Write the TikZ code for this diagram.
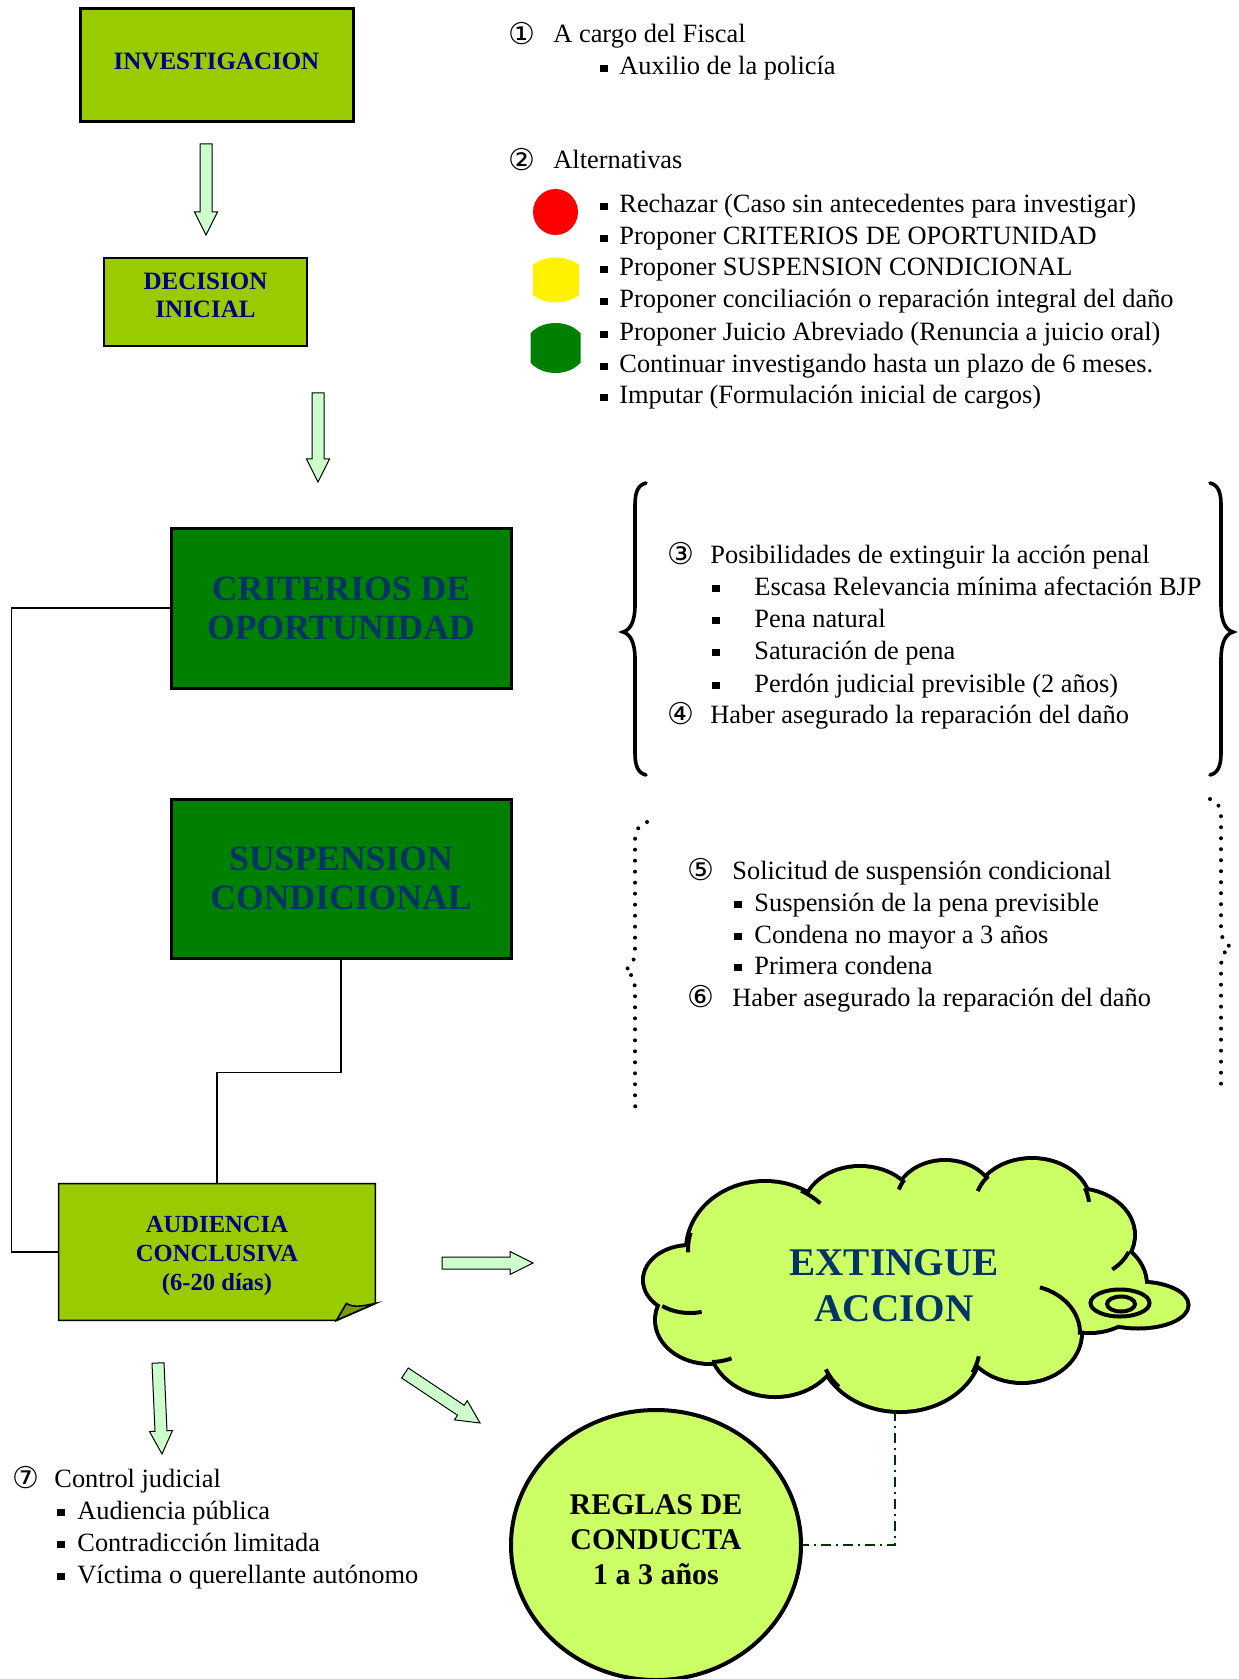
\documentclass[tikz,border=0pt]{standalone}
\usepackage{fontspec}
\setmainfont{Liberation Serif}
\newfontfamily\symf{DejaVu Sans}
\usetikzlibrary{calc,shapes.geometric}

\definecolor{lgreen}{HTML}{99CC00}
\definecolor{dgreen}{HTML}{008000}
\definecolor{navyc}{HTML}{000080}
\definecolor{dnavy}{HTML}{003366}
\definecolor{cloudc}{HTML}{CCFF66}
\definecolor{arrowc}{HTML}{CCFFCC}
\definecolor{foldc}{HTML}{7A9A00}
\definecolor{dashc}{HTML}{003300}

\newcommand\cn[1]{{\symf\fontsize{15}{15}\selectfont #1}}
\newcommand\sqb{\rule[1.4pt]{3.8pt}{3.8pt}}
\newcommand\numl[3]{\makebox[#1][l]{\raisebox{-0.6pt}{\cn{#2}}}#3}
\newcommand\bull[2]{\makebox[#1][l]{\sqb}#2}
\newcommand\blockarrow[3]{%
  \coordinate (#3h) at ($(#2)!11.5pt!(#1)$);
  \draw[barrow] ($(#1)!3pt!90:(#2)$) -- ($(#3h)!3pt!90:(#2)$) -- ($(#3h)!5.75pt!90:(#2)$) -- (#2) -- ($(#3h)!5.75pt!-90:(#2)$) -- ($(#3h)!3pt!-90:(#2)$) -- ($(#1)!3pt!-90:(#2)$) -- cycle;}
\newcommand\stub[6]{\draw[stubline] plot[domain=#5:#6, samples=16, variable=\t] ({#1+#3*cos(\t)}, {#2+#4*sin(\t)});}

\begin{document}
\begin{tikzpicture}[x=0.5pt,y=-0.5pt,
  txt/.style={anchor=base west, inner sep=0pt, font=\fontsize{13.2}{16}\selectfont},
  lbox/.style={draw, fill=lgreen, inner sep=0pt},
  ltext/.style={text=navyc, font=\bfseries\fontsize{12.5}{14}\selectfont, align=center, inner sep=0pt},
  dbox/.style={draw, line width=1.5pt, fill=dgreen, text=dnavy, font=\bfseries\fontsize{17.8}{19.5}\selectfont, align=center, inner sep=0pt},
  barrow/.style={draw=black, line width=0.5pt, fill=arrowc, line join=miter},
  conn/.style={line width=0.8pt},
  brace/.style={line width=1.8pt, line cap=round},
  dbrace/.style={line width=2pt, line cap=round, dash pattern=on 0pt off 5.5pt},
  stubline/.style={line width=2pt}]
\useasboundingbox (0,0) rectangle (1238,1679);
\fill[white] (0,0) rectangle (1238,1679);

% ---------- boxes ----------
\node[lbox, line width=1.5pt, minimum width=136.5pt, minimum height=56.5pt] (inv) at (216.5,65.5) {};
\node[ltext] (invt) at (216.5,61) {INVESTIGACION};
\node[lbox, line width=0.8pt, minimum width=101.5pt, minimum height=44pt] (dec) at (205.5,302) {};
\node[ltext] (dect) at (205.5,295) {DECISION\\INICIAL};
\node[dbox, minimum width=170pt, minimum height=80pt] (crit) at (341,608) {CRITERIOS DE\\OPORTUNIDAD};
\node[dbox, minimum width=170pt, minimum height=79.5pt] (susp) at (341,878.5) {\raisebox{0pt}{SUSPENSION}\\CONDICIONAL};

% audiencia (folded note)
\node[minimum width=158pt, minimum height=68pt, inner sep=0pt] (aud) at (217,1252) {};
\draw[line width=0.8pt, fill=lgreen] (aud.north west) -- (aud.north east) -- ($(aud.south east)+(0,-17)$) -- ($(aud.south east)+(-39,0)$) -- (aud.south west) -- cycle;
\draw[line width=0.8pt, fill=foldc] ($(aud.south east)+(-39,0)$) -- ($(aud.south east)+(-29,-17)$) .. controls ($(aud.south east)+(-22,-12)$) and ($(aud.south east)+(-10,-15)$) .. ($(aud.south east)+(0,-17)$) -- cycle;
\node[font=\bfseries\fontsize{12.3}{14.5}\selectfont, text=navyc, align=center, inner sep=0pt] (audt) at (217,1256) {AUDIENCIA\\CONCLUSIVA\\(6-20 días)};

% connectors
\draw[conn] (crit.west) -- ++(-158,0) |- (aud.west);
\draw[conn] (susp.south) -- ++(0,113) -| (aud.north);

% ---------- block arrows ----------
\coordinate (a1s) at (206,144); \coordinate (a1e) at (206,235);
\coordinate (a2s) at (318,393); \coordinate (a2e) at (318,482);
\coordinate (a3s) at (442,1263); \coordinate (a3e) at (533,1263);
\coordinate (a4s) at (405,1373); \coordinate (a4e) at (480,1423);
\coordinate (a5s) at (158,1363); \coordinate (a5e) at (162,1454);
\blockarrow{a1s}{a1e}{a1}
\blockarrow{a2s}{a2e}{a2}
\blockarrow{a3s}{a3e}{a3}
\blockarrow{a4s}{a4e}{a4}
\blockarrow{a5s}{a5e}{a5}

% ---------- traffic lights ----------
\fill[red] (555.5,212) ellipse [x radius=22.5, y radius=23];
\begin{scope}
  \clip (533,250) rectangle (579,310);
  \fill[yellow] (556,280) ellipse [x radius=31, y radius=22.5];
\end{scope}
\begin{scope}
  \clip (530.5,318) rectangle (580.5,380);
  \fill[dgreen] (555.5,348) ellipse [x radius=31, y radius=25];
\end{scope}

% ---------- right texts ----------
\node[txt] (t1) at (508,43) {\numl{22.5pt}{①}{A cargo del Fiscal}};
\node[txt] (t2) at (600,75) {\bull{9.5pt}{Auxilio de la policía}};
\node[txt] (t3) at (508,169) {\numl{22.5pt}{②}{Alternativas}};
\node[txt] (t4) at (600,213) {\bull{9.5pt}{Rechazar (Caso sin antecedentes para investigar)}};
\node[txt] (t5) at (600,245) {\bull{9.5pt}{Proponer CRITERIOS DE OPORTUNIDAD}};
\node[txt] (t6) at (600,276) {\bull{9.5pt}{Proponer SUSPENSION CONDICIONAL}};
\node[txt] (t7) at (600,308) {\bull{9.5pt}{Proponer conciliación o reparación integral del daño}};
\node[txt] (t8) at (600,341) {\bull{9.5pt}{Proponer Juicio Abreviado (Renuncia a juicio oral)}};
\node[txt] (t9) at (600,373) {\bull{9.5pt}{Continuar investigando hasta un plazo de 6 meses.}};
\node[txt] (t10) at (600,404) {\bull{9.5pt}{Imputar (Formulación inicial de cargos)}};

\node[txt] (t11) at (667,563) {\numl{21.5pt}{③}{Posibilidades de extinguir la acción penal}};
\node[txt] (t12) at (712,595) {\bull{21pt}{Escasa Relevancia mínima afectación BJP}};
\node[txt] (t13) at (712,627) {\bull{21pt}{Pena natural}};
\node[txt] (t14) at (712,659) {\bull{21pt}{Saturación de pena}};
\node[txt] (t15) at (712,692) {\bull{21pt}{Perdón judicial previsible (2 años)}};
\node[txt] (t16) at (667,723) {\numl{21.5pt}{④}{Haber asegurado la reparación del daño}};

\node[txt] (t17) at (687,879) {\numl{22.5pt}{⑤}{Solicitud de suspensión condicional}};
\node[txt] (t18) at (734,911) {\bull{10pt}{Suspensión de la pena previsible}};
\node[txt] (t19) at (734,943) {\bull{10pt}{Condena no mayor a 3 años}};
\node[txt] (t20) at (734,974) {\bull{10pt}{Primera condena}};
\node[txt] (t21) at (687,1006) {\numl{22.5pt}{⑥}{Haber asegurado la reparación del daño}};

\node[txt] (t22) at (12,1487) {\numl{21pt}{⑦}{Control judicial}};
\node[txt] (t23) at (57,1519) {\bull{10pt}{Audiencia pública}};
\node[txt] (t24) at (57,1551) {\bull{10pt}{Contradicción limitada}};
\node[txt] (t25) at (57,1583) {\bull{10pt}{Víctima o querellante autónomo}};

% ---------- braces ----------
\draw[brace] (646,483) .. controls (638,485) and (635,492) .. (635,505) -- (635,605) .. controls (635,622) and (630,630) .. (623,632) .. controls (630,634) and (635,642) .. (635,659) -- (635,753) .. controls (635,766) and (638,773) .. (646,775);
\draw[brace] (1210,483) .. controls (1218,485) and (1221,492) .. (1221,505) -- (1221,605) .. controls (1221,622) and (1226,630) .. (1233,632) .. controls (1226,634) and (1221,642) .. (1221,659) -- (1221,753) .. controls (1221,766) and (1218,773) .. (1210,775);
\draw[dbrace] (647,822) .. controls (640,824) and (635,830) .. (635,840) -- (635,950) .. controls (635,962) and (630,968) .. (625,970) .. controls (630,972) and (635,978) .. (635,990) -- (635,1104) .. controls (635,1110) and (637,1113) .. (639,1115);
\draw[dbrace] (1210,799) .. controls (1217,801) and (1221,807) .. (1221,817) -- (1221,928) .. controls (1221,940) and (1226,945) .. (1231,947) .. controls (1226,949) and (1221,955) .. (1221,967) -- (1221,1084) .. controls (1221,1088) and (1219,1091) .. (1217,1093);

% ---------- cloud ----------
\foreach \cx/\cy/\rx/\ry in {690/1280/45/33, 710/1320/53/42, 775/1340/65/55, 900/1345/80/65, 1022/1333/58/48, 1090/1285/55/46, 1075/1235/58/45, 1032/1205/57/45, 945/1200/48/38, 860/1210/55/42, 765/1250/77/67, 1138/1305/48.5/21.5}
  \draw[line width=4pt] (\cx,\cy) ellipse [x radius=\rx, y radius=\ry];
\foreach \cx/\cy/\rx/\ry in {690/1280/45/33, 710/1320/53/42, 775/1340/65/55, 900/1345/80/65, 1022/1333/58/48, 1090/1285/55/46, 1075/1235/58/45, 1032/1205/57/45, 945/1200/48/38, 860/1210/55/42, 765/1250/77/67, 1138/1305/48.5/21.5, 890/1285/170/90}
  \fill[cloudc] (\cx,\cy) ellipse [x radius=\rx, y radius=\ry];
\stub{765}{1250}{77}{67}{195}{178}
\stub{765}{1250}{77}{67}{-62}{-44}
\stub{945}{1200}{48}{38}{212}{196}
\stub{1032}{1205}{57}{45}{220}{198}
\stub{1032}{1205}{57}{45}{-22}{-4}
\stub{1075}{1235}{58}{45}{22}{50}
\stub{1022}{1333}{58}{48}{2}{-72}
\stub{900}{1345}{80}{65}{25}{10}
\stub{900}{1345}{80}{65}{140}{158}
\stub{710}{1320}{53}{42}{88}{66}
\stub{690}{1280}{45}{33}{128}{75}
\draw[line width=2pt, fill=cloudc] (1120,1303) ellipse [x radius=29.5, y radius=13.5];
\draw[line width=2pt, fill=cloudc] (1121,1304) ellipse [x radius=14, y radius=7.5];
\node[font=\bfseries\fontsize{19.6}{23}\selectfont, text=dnavy, align=center, inner sep=0pt] (cloudt) at (894,1286) {EXTINGUE\\ACCION};
\coordinate (cloudb) at (895,1411);

% ---------- reglas ----------
\node[ellipse, draw, line width=2pt, fill=cloudc, minimum width=145pt, minimum height=135pt, inner sep=0pt] (rg) at (656,1545) {};
\node[font=\bfseries\fontsize{15}{17.5}\selectfont, align=center, inner sep=0pt] (rgt) at (656,1540) {REGLAS DE\\CONDUCTA\\1 a 3 años};
\draw[dashc, line width=0.7pt, dash pattern=on 5pt off 2.5pt on 1pt off 2.5pt] (cloudb) |- (rg.east);
\end{tikzpicture}
\end{document}
